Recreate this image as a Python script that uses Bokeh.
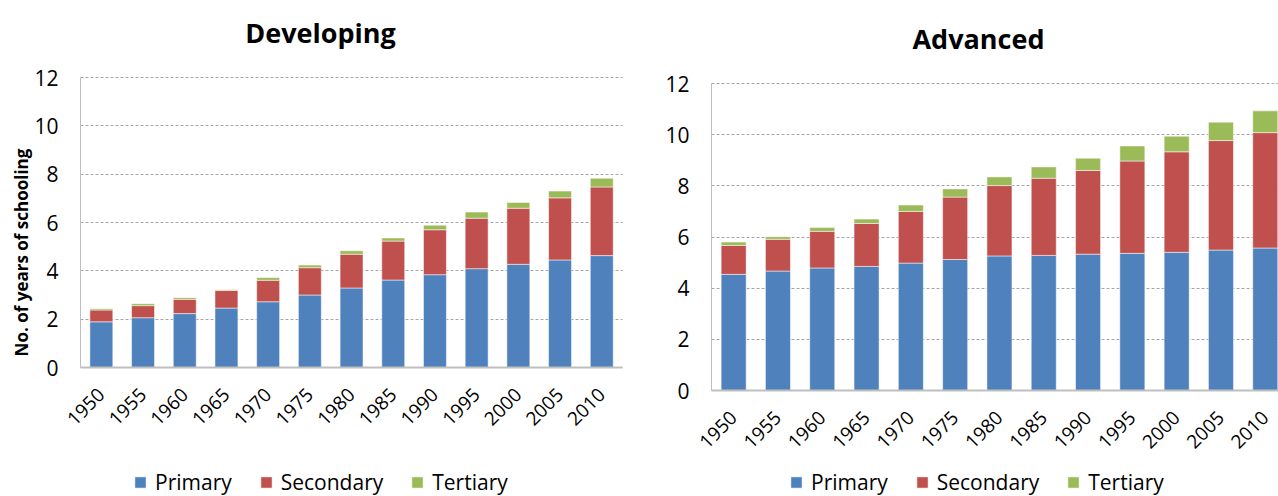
import math
from bokeh.plotting import figure
from bokeh.models import ColumnDataSource, FixedTicker, Label, Legend, LegendItem, Range1d
from bokeh.layouts import row
from bokeh.embed import file_html
from bokeh.resources import INLINE

years = ["1950", "1955", "1960", "1965", "1970", "1975", "1980",
         "1985", "1990", "1995", "2000", "2005", "2010"]
series = ["Primary", "Secondary", "Tertiary"]
colors = ["#4F81BD", "#C0504D", "#9BBB59"]
y_ticks = [0, 2, 4, 6, 8, 10, 12]

dev_primary = [1.89, 2.06, 2.23, 2.46, 2.72, 3.00, 3.29, 3.62, 3.84, 4.09, 4.27, 4.45, 4.63]
dev_secondary = [0.49, 0.50, 0.59, 0.73, 0.89, 1.13, 1.40, 1.61, 1.86, 2.09, 2.32, 2.57, 2.84]
dev_tertiary = [0.05, 0.08, 0.07, 0.03, 0.11, 0.11, 0.14, 0.13, 0.19, 0.25, 0.24, 0.28, 0.36]

adv_primary = [4.54, 4.67, 4.79, 4.85, 4.98, 5.12, 5.26, 5.28, 5.33, 5.36, 5.40, 5.49, 5.57]
adv_secondary = [1.13, 1.24, 1.43, 1.68, 2.02, 2.44, 2.75, 3.02, 3.27, 3.61, 3.93, 4.28, 4.51]
adv_tertiary = [0.13, 0.10, 0.15, 0.17, 0.25, 0.32, 0.34, 0.44, 0.48, 0.59, 0.61, 0.72, 0.85]

FONT = "Open Sans"
Y_MAX = 12


def build(title, prim, sec, tert, width, height, area, slot_px, bar_w,
          title_xy, ylabel_xy, legend_xy):
    # area = (left, top, bottom) pixel position of the plotting area inside the figure
    a_left, a_top, a_bottom = area
    n = len(years)
    idx = list(range(n))
    y_px = (a_bottom - a_top) / Y_MAX
    x0 = -0.5 - a_left / slot_px
    x1 = -0.5 + (width - a_left) / slot_px
    y1 = Y_MAX + a_top / y_px
    y0 = -(height - a_bottom) / y_px
    x_last = min(n - 0.5, x1)

    src = ColumnDataSource(dict(x=idx, Primary=prim, Secondary=sec, Tertiary=tert))
    p = figure(width=width, height=height, output_backend="svg", toolbar_location=None,
               x_range=Range1d(x0, x1), y_range=Range1d(y0, y1),
               min_border=0, min_border_left=0, min_border_right=0,
               min_border_top=0, min_border_bottom=0)
    p.outline_line_color = None
    p.background_fill_color = "white"
    p.border_fill_color = "white"

    p.xgrid.visible = False
    p.ygrid.ticker = FixedTicker(ticks=y_ticks)
    p.ygrid.grid_line_color = "#A6A6A6"
    p.ygrid.grid_line_dash = "3 2"
    p.ygrid.grid_line_width = 1
    try:
        p.ygrid.cross_bounds = (-0.5, x_last)
    except Exception:
        p.ygrid.visible = False
        p.segment(x0=[-0.5] * len(y_ticks), x1=[x_last] * len(y_ticks), y0=y_ticks, y1=y_ticks,
                  line_color="#A6A6A6", line_dash="3 2", line_width=1)

    rs = p.vbar_stack(series, x="x", width=bar_w, color=colors, source=src,
                      line_color="white", line_alpha=0.5, line_width=1)

    p.yaxis.fixed_location = -0.5
    p.yaxis.bounds = (0, Y_MAX)
    p.yaxis.ticker = FixedTicker(ticks=y_ticks)
    p.yaxis.axis_line_color = "#BFBFBF"
    p.yaxis.major_tick_line_color = None
    p.yaxis.minor_tick_line_color = None
    p.yaxis.major_tick_out = 0
    p.yaxis.major_tick_in = 0
    p.yaxis.major_label_standoff = 22
    p.yaxis.major_label_text_font = FONT
    p.yaxis.major_label_text_font_size = "21px"
    p.yaxis.major_label_text_color = "#000000"

    p.xaxis.fixed_location = 0
    p.xaxis.bounds = (-0.5, x_last)
    p.xaxis.ticker = FixedTicker(ticks=idx)
    p.xaxis.major_label_overrides = {i: y for i, y in zip(idx, years)}
    p.xaxis.axis_line_color = "#BFBFBF"
    p.xaxis.axis_line_width = 2
    p.xaxis.major_tick_line_color = None
    p.xaxis.minor_tick_line_color = None
    p.xaxis.major_tick_out = 0
    p.xaxis.major_tick_in = 0
    p.xaxis.major_label_orientation = math.pi / 4
    p.xaxis.major_label_standoff = 24
    p.xaxis.major_label_text_font = FONT
    p.xaxis.major_label_text_font_size = "19px"
    p.xaxis.major_label_text_color = "#000000"

    p.add_layout(Label(x=title_xy[0], y=height - title_xy[1], x_units="screen", y_units="screen",
                       text=title, text_align="center", text_baseline="middle",
                       text_font=FONT, text_font_style="bold", text_font_size="27px",
                       text_color="#000000"))
    if ylabel_xy is not None:
        p.add_layout(Label(x=ylabel_xy[0], y=height - ylabel_xy[1], x_units="screen",
                           y_units="screen", text="No. of years of schooling",
                           angle=math.pi / 2, text_align="center", text_baseline="middle",
                           text_font=FONT, text_font_style="bold", text_font_size="17px",
                           text_color="#000000"))

    legend = Legend(items=[LegendItem(label=s, renderers=[r]) for s, r in zip(series, rs)],
                    orientation="horizontal", location=legend_xy,
                    spacing=27, label_standoff=8, glyph_width=14, glyph_height=14,
                    padding=0, margin=0, border_line_color=None, background_fill_alpha=0,
                    label_text_font=FONT, label_text_font_size="21px",
                    label_text_color="#000000")
    p.add_layout(legend)
    return p


left = build("Developing", dev_primary, dev_secondary, dev_tertiary,
             width=640, height=496, area=(80, 77, 367), slot_px=41.7, bar_w=0.55,
             title_xy=(320, 32), ylabel_xy=(21, 252), legend_xy=(133, 0))
right = build("Advanced", adv_primary, adv_secondary, adv_tertiary,
              width=638, height=496, area=(71, 83, 390), slot_px=44.3, bar_w=0.565,
              title_xy=(338, 38), ylabel_xy=None, legend_xy=(149, 0))

layout = row(left, right)
open("out.html", "w").write(file_html(layout, INLINE))
